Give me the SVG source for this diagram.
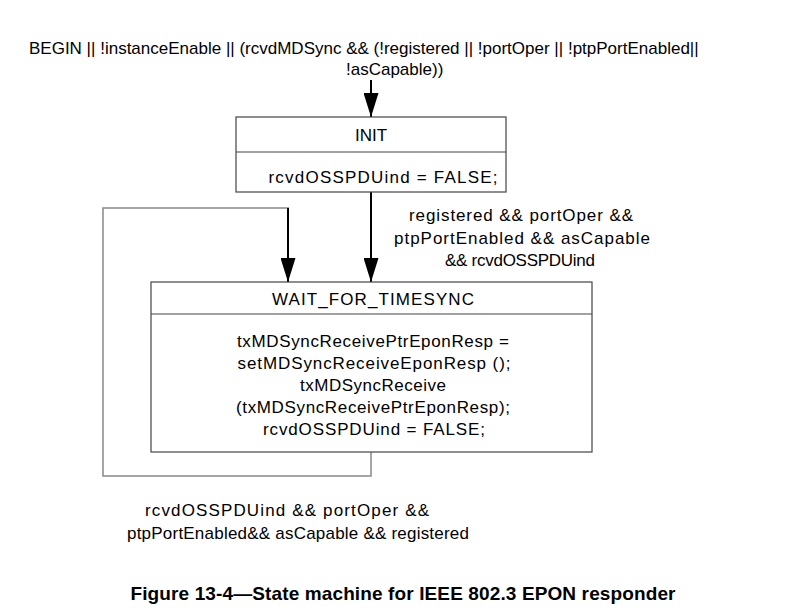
<svg xmlns="http://www.w3.org/2000/svg" width="795" height="615" viewBox="0 0 795 615">
<style>
text{font-family:"Liberation Sans",Arial,sans-serif;font-size:17px;fill:#000;text-anchor:middle}
.st{text-anchor:start}
.box{fill:#fff;stroke:#444;stroke-width:1.2}
.div{stroke:#444;stroke-width:1.2}
.conn{fill:none;stroke:#000;stroke-width:2}
.loop{fill:none;stroke:#888;stroke-width:1.5}
.cap{font-weight:bold;font-size:19px}
</style>
<defs>
<marker id="ah" markerWidth="24" markerHeight="15" refX="24" refY="7.5" orient="auto" markerUnits="userSpaceOnUse" viewBox="0 0 24 15">
<path d="M0,0 L24,7.5 L0,15 Z" fill="#000"/>
</marker>
</defs>
<rect width="795" height="615" fill="#fff"/>
<g id="connectors">
<line class="conn" x1="371" y1="80" x2="371" y2="117" marker-end="url(#ah)"/>
<line class="conn" x1="371" y1="192" x2="371" y2="282" marker-end="url(#ah)"/>
<polyline class="loop" points="371,452 371,476 103,476 103,208 289,208"/>
<line class="conn" x1="288" y1="208" x2="288" y2="282" marker-end="url(#ah)"/>
</g>
<g id="top-label">
<text class="st" x="29" y="54">BEGIN || !instanceEnable || (rcvdMDSync &amp;&amp; (!registered || !portOper || !ptpPortEnabled||</text>
<text class="st" x="346" y="75">!asCapable))</text>
</g>
<g id="INIT">
<rect class="box" x="236" y="117" width="270" height="75"/>
<line class="div" x1="236" y1="152" x2="506" y2="152"/>
<text x="371" y="141">INIT</text>
<text x="383" y="183" textLength="229" lengthAdjust="spacing">rcvdOSSPDUind = FALSE;</text>
</g>
<g id="WAIT_FOR_TIMESYNC">
<rect class="box" x="151" y="282" width="441" height="170"/>
<line class="div" x1="151" y1="314" x2="592" y2="314"/>
<text x="373" y="305" textLength="202" lengthAdjust="spacing">WAIT_FOR_TIMESYNC</text>
<text x="373" y="347" textLength="272" lengthAdjust="spacing">txMDSyncReceivePtrEponResp =</text>
<text x="374" y="369" textLength="273" lengthAdjust="spacing">setMDSyncReceiveEponResp ();</text>
<text x="373" y="391" textLength="146" lengthAdjust="spacing">txMDSyncReceive</text>
<text x="373" y="413" textLength="274" lengthAdjust="spacing">(txMDSyncReceivePtrEponResp);</text>
<text x="374" y="435" textLength="222" lengthAdjust="spacing">rcvdOSSPDUind = FALSE;</text>
</g>
<g id="label-init-wait">
<text x="521" y="221" textLength="224" lengthAdjust="spacing">registered &amp;&amp; portOper &amp;&amp;</text>
<text x="522" y="244" textLength="256" lengthAdjust="spacing">ptpPortEnabled &amp;&amp; asCapable</text>
<text x="520" y="266" textLength="150" lengthAdjust="spacing">&amp;&amp; rcvdOSSPDUind</text>
</g>
<g id="label-loop">
<text x="287" y="516" textLength="284" lengthAdjust="spacing">rcvdOSSPDUind &amp;&amp; portOper &amp;&amp;</text>
<text x="298" y="539" textLength="342" lengthAdjust="spacing">ptpPortEnabled&amp;&amp; asCapable &amp;&amp; registered</text>
</g>
<text class="cap" x="403" y="600" textLength="545" lengthAdjust="spacing">Figure 13-4—State machine for IEEE 802.3 EPON responder</text>
</svg>
